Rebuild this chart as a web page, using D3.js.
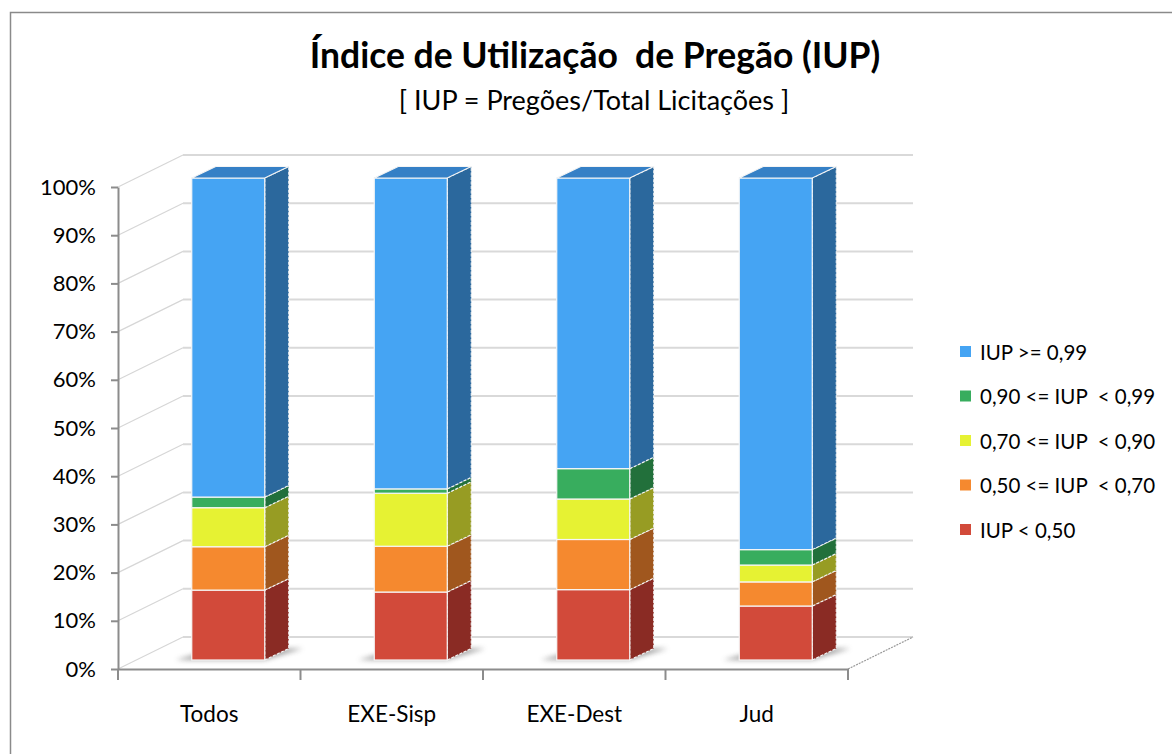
<!DOCTYPE html>
<html>
<head>
<meta charset="utf-8">
<script src="https://cdn.jsdelivr.net/npm/d3@7"></script>
<style>
  body { margin: 0; background: #fff; }
  svg { display: block; font-family: Lato, "Open Sans", sans-serif; }
</style>
</head>
<body>
<svg id="chart" width="1172" height="754"></svg>
<script>
// data (percent of each bar)
const categories = ["Todos", "EXE-Sisp", "EXE-Dest", "Jud"];
const seriesNames = ["IUP < 0,50", "0,50 <= IUP  < 0,70", "0,70 <= IUP  < 0,90", "0,90 <= IUP  < 0,99", "IUP >= 0,99"];
const below050 = [14.5, 14.1, 14.6, 11.2];
const from050 = [9.0, 9.5, 10.4, 5.0];
const from070 = [8.1, 11.0, 8.4, 3.5];
const from090 = [2.2, 0.9, 6.3, 3.2];
const above099 = [66.2, 64.5, 60.3, 77.1];
const yTicks = [0, 10, 20, 30, 40, 50, 60, 70, 80, 90, 100];

const frontColors = ["#d24a3a", "#f5892f", "#e6f233", "#38ad5e", "#45a4f3"];
const sideColors = ["#8a2b24", "#a0571e", "#979c23", "#22703b", "#2b689d"];
const topColors = ["#b03e31", "#cf7428", "#c4cd2b", "#2f9350", "#3580c6"];

const svg = d3.select("#chart");

// frame
svg.append("rect")
  .attr("x", 10.5).attr("y", 12.5)
  .attr("width", 1200).attr("height", 800)
  .attr("fill", "#fff")
  .attr("stroke", "#8a8a8a").attr("stroke-width", 1.5);

const x = d3.scaleBand().domain(categories).range([118, 848]);
const y = d3.scaleLinear().domain([0, 100]).range([669, 187]);

// oblique offsets
const wall = { dx: 65, dy: -32 };
const barFront = { dx: 19, dy: -9 };
const barDepth = { dx: 24, dy: -11.5 };
const barWidth = 73;

const rows = categories.map((c, i) => ({
  cat: c,
  s0: below050[i], s1: from050[i], s2: from070[i], s3: from090[i], s4: above099[i]
}));
const keys = ["s0", "s1", "s2", "s3", "s4"];
const stacked = d3.stack().keys(keys)(rows);

// walls and gridlines
const grid = svg.append("g");
const xLeft = x.range()[0], xRight = x.range()[1];
grid.selectAll("line.diag")
  .data(yTicks)
  .join("line")
  .attr("x1", xLeft).attr("y1", d => y(d))
  .attr("x2", xLeft + wall.dx).attr("y2", d => y(d) + wall.dy)
  .attr("stroke", "#d6d6d6").attr("stroke-width", 1.2);
grid.selectAll("line.back")
  .data(yTicks)
  .join("line")
  .attr("x1", xLeft + wall.dx).attr("y1", d => y(d) + wall.dy)
  .attr("x2", xRight + wall.dx).attr("y2", d => y(d) + wall.dy)
  .attr("stroke", "#d9d9d9").attr("stroke-width", 2);
// floor right edge
grid.append("line")
  .attr("x1", xRight).attr("y1", y(0))
  .attr("x2", xRight + wall.dx).attr("y2", y(0) + wall.dy)
  .attr("stroke", "#9a9a9a").attr("stroke-width", 1.2)
  .attr("stroke-dasharray", "2,1");

// shadow filter
const defs = svg.append("defs");
defs.append("filter").attr("id", "blur")
  .attr("x", "-50%").attr("y", "-50%").attr("width", "200%").attr("height", "200%")
  .append("feGaussianBlur").attr("stdDeviation", 2.5);

const bars = svg.append("g");
categories.forEach((c, ci) => {
  const x0 = x(c) + x.bandwidth() / 2 - barWidth / 2 + barFront.dx;
  const x1 = x0 + barWidth;
  const yb = y(0) + barFront.dy;

  // floor shadow
  bars.append("path")
    .attr("d", `M${x0 - 16},${yb} L${x1},${yb} L${x1 + barDepth.dx + 14},${yb + barDepth.dy} L${x0 + barDepth.dx},${yb + barDepth.dy} Z`)
    .attr("fill", "#5a5a5a").attr("opacity", 0.55)
    .attr("filter", "url(#blur)");

  stacked.forEach((layer, si) => {
    const d = layer[ci];
    const yTop = y(d[1]) + barFront.dy;
    const yBot = y(d[0]) + barFront.dy;
    // side face
    bars.append("path")
      .attr("d", `M${x1},${yBot} L${x1 + barDepth.dx},${yBot + barDepth.dy} L${x1 + barDepth.dx},${yTop + barDepth.dy} L${x1},${yTop} Z`)
      .attr("fill", sideColors[si])
      .attr("stroke", "#f4f4f4").attr("stroke-width", 1.1)
      .attr("stroke-dasharray", "3,1.5");
    // front face
    bars.append("rect")
      .attr("x", x0).attr("y", yTop)
      .attr("width", barWidth).attr("height", yBot - yTop)
      .attr("fill", frontColors[si])
      .attr("stroke", "#f6f6f6").attr("stroke-width", 1.2);
    if (si === keys.length - 1) {
      bars.append("path")
        .attr("d", `M${x0},${yTop} L${x1},${yTop} L${x1 + barDepth.dx},${yTop + barDepth.dy} L${x0 + barDepth.dx},${yTop + barDepth.dy} Z`)
        .attr("fill", topColors[si])
        .attr("stroke", "#f4f4f4").attr("stroke-width", 1.1);
    }
  });
});

// y axis
const yAxis = svg.append("g")
  .attr("transform", `translate(${xLeft},0)`)
  .call(d3.axisLeft(y).tickValues(yTicks).tickFormat(d => d + "%").tickSize(7).tickSizeOuter(0).tickPadding(15));
yAxis.select(".domain").attr("stroke", "#8c8c8c").attr("stroke-width", 2);
yAxis.selectAll(".tick line").attr("stroke", "#8c8c8c").attr("stroke-width", 2);
yAxis.selectAll(".tick text").attr("font-size", 22).attr("fill", "#000").attr("font-family", "Lato");

// x axis
const xAxis = svg.append("g")
  .attr("transform", `translate(0,${y(0)})`)
  .call(d3.axisBottom(x).tickSize(0).tickPadding(37));
xAxis.select(".domain").attr("stroke", "#8c8c8c").attr("stroke-width", 2);
xAxis.selectAll(".tick text").attr("font-size", 22.5).attr("fill", "#000").attr("font-family", "Lato");
const bounds = [xLeft].concat(categories.map(c => x(c) + x.bandwidth()));
xAxis.selectAll("line.bound")
  .data(bounds)
  .join("line")
  .attr("x1", d => d).attr("x2", d => d)
  .attr("y1", 0).attr("y2", 11)
  .attr("stroke", "#8c8c8c").attr("stroke-width", 2);

// titles
svg.append("text")
  .attr("x", 595).attr("y", 68)
  .attr("text-anchor", "middle")
  .attr("font-size", 35.5).attr("font-weight", "bold")
  .style("white-space", "pre")
  .text("Índice de Utilização  de Pregão (IUP)");
svg.append("text")
  .attr("x", 594).attr("y", 110)
  .attr("text-anchor", "middle")
  .attr("font-size", 27)
  .text("[ IUP = Pregões/Total Licitações ]");

// legend (top entry is last series)
const legend = svg.append("g");
const legendRows = seriesNames.map((n, i) => ({ name: n, color: frontColors[i] })).reverse();
legend.selectAll("rect")
  .data(legendRows)
  .join("rect")
  .attr("x", 960).attr("y", (d, i) => 346 + i * 44.5)
  .attr("width", 11).attr("height", 11)
  .attr("fill", d => d.color);
legend.selectAll("text")
  .data(legendRows)
  .join("text")
  .attr("x", 980).attr("y", (d, i) => 359.5 + i * 44.5)
  .attr("font-size", 20.5)
  .style("white-space", "pre")
  .text(d => d.name);
</script>
</body>
</html>
